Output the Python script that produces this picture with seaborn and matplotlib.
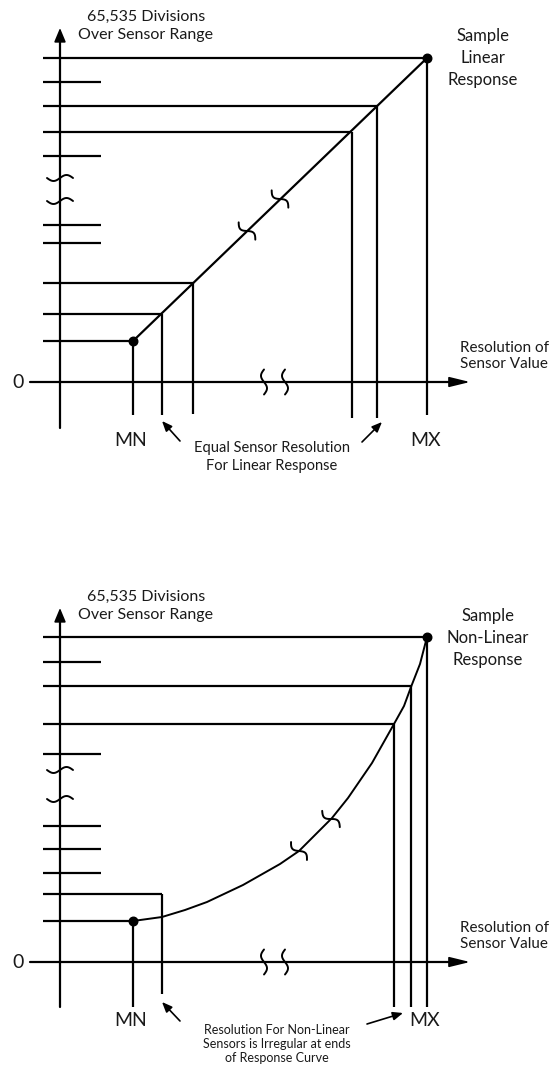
import numpy as np
import matplotlib
matplotlib.use('Agg')
import matplotlib.pyplot as plt
import seaborn as sns

# ── Data (panel coords: origin where the two axes cross, units ~ pixels) ─────
# top panel : linear response
lin_x = [73, 102, 133, 292, 317, 367]
lin_y = [41, 68, 99, 250, 276, 324]
lin_vbottom = [-33, -33, -32, -36, -36, -33]
lin_short_ticks = [300, 226, 157, 139]
lin_axis_breaks = [204, 181]
lin_curve_breaks = [(187, 151), (220, 183)]

# bottom panel : non-linear response
nl_curve_x = [73, 102, 125, 147, 183, 220, 239, 272, 288, 312, 334, 344, 351, 360, 367]
nl_curve_y = [41, 45, 52, 60, 77, 98, 111, 144, 164, 199, 238, 256, 275, 298, 325]
nl_x = [73, 102, 334, 351, 367]
nl_y = [41, 68, 238, 276, 325]
nl_vbottom = [-45, -32, -45, -45, -45]
nl_short_ticks = [300, 208, 136, 113, 89]
nl_axis_breaks = [192, 163]
nl_curve_breaks = [(239, 111), (271, 143)]

x_axis_breaks = [204, 225]

LW = 1.6
TICK_X0, TICK_X1 = -17, 41

sns.set_style('white')
plt.rcParams['font.family'] = ['Lato', 'DejaVu Sans']
TXT = '#1a1a1a'


def wave(ax, cx, cy, angle, length=26, amp=3.0):
    # small "~" break mark centred on (cx, cy), long side along angle
    s = np.linspace(-length / 2, length / 2, 40)
    off = amp * np.sin(2 * np.pi * s / length)
    ux, uy = np.cos(angle), np.sin(angle)
    px, py = -uy, ux
    ax.plot(cx + s * ux + off * px, cy + s * uy + off * py, color='k', lw=LW - 0.2,
            solid_capstyle='round')


def arrow(ax, tail, head, ms=10, hl=0.6, hw=0.25):
    ax.annotate('', xy=head, xytext=tail,
                arrowprops=dict(arrowstyle=f'-|>,head_length={hl},head_width={hw}',
                                color='k', lw=LW - 0.4, shrinkA=0, shrinkB=0,
                                mutation_scale=ms))


def frame(ax, short_ticks, axis_breaks, y_bottom):
    # axes with arrow heads, zero label, axis titles
    ax.plot([0, 0], [y_bottom, 340], color='k', lw=LW)
    arrow(ax, (0, 330), (0, 354), ms=14)
    ax.plot([-30, 396], [0, 0], color='k', lw=LW)
    arrow(ax, (380, 0), (410, 0), ms=14, hl=0.9, hw=0.22)
    ax.hlines(short_ticks, TICK_X0, TICK_X1, color='k', lw=LW)
    for yb in axis_breaks:
        wave(ax, 0, yb, 0.0, length=26, amp=3.0)
    for xb in x_axis_breaks:
        wave(ax, xb, 0, np.pi / 2, length=25, amp=3.0)
    ax.text(-42, 0, '0', fontsize=14, ha='center', va='center', color=TXT)
    ax.text(86, 356, '65,535 Divisions\nOver Sensor Range', fontsize=11.5,
            ha='center', va='center', linespacing=1.35, color=TXT)
    ax.text(444, 26, 'Resolution of\nSensor Value', fontsize=11,
            ha='center', va='center', linespacing=1.25, color=TXT)


fig = plt.figure(figsize=(5.54, 10.66), dpi=100)
ax_top = fig.add_axes([0, 0.5, 1, 0.5])
ax_bot = fig.add_axes([0, 0, 1, 0.5])

# ── Top: linear response ──────────────────────────────────────────────────────
ax = ax_top
ax.set_xlim(-60, 494)
ax.set_ylim(-151, 382)
frame(ax, lin_short_ticks, lin_axis_breaks, -46)
ax.hlines(lin_y, TICK_X0, lin_x, color='k', lw=LW)
ax.vlines(lin_x, lin_vbottom, lin_y, color='k', lw=LW)
sns.lineplot(x=[lin_x[0], lin_x[-1]], y=[lin_y[0], lin_y[-1]], ax=ax, color='k',
             lw=LW, sort=False, estimator=None)
ang = np.arctan2(lin_y[-1] - lin_y[0], lin_x[-1] - lin_x[0]) + np.pi / 2
for bx, by in lin_curve_breaks:
    wave(ax, bx, by, ang, length=24, amp=3.5)
ax.scatter([lin_x[0], lin_x[-1]], [lin_y[0], lin_y[-1]], s=38, color='k', zorder=5)
ax.text(423, 324, 'Sample\nLinear\nResponse', fontsize=12, ha='center', va='center',
        linespacing=1.45, color=TXT)
ax.text(71, -59, 'MN', fontsize=14, ha='center', va='center', color=TXT)
ax.text(366, -59, 'MX', fontsize=14, ha='center', va='center', color=TXT)
ax.text(212, -75, 'Equal Sensor Resolution\nFor Linear Response', fontsize=10.5,
        ha='center', va='center', linespacing=1.3, color=TXT)
arrow(ax, (120, -59), (102, -39), ms=10)
arrow(ax, (302, -60), (322, -40), ms=10)

# ── Bottom: non-linear response ───────────────────────────────────────────────
ax = ax_bot
ax.set_xlim(-60, 494)
ax.set_ylim(-104, 429)
frame(ax, nl_short_ticks, nl_axis_breaks, -45)
ax.hlines(nl_y, TICK_X0, nl_x, color='k', lw=LW)
ax.vlines(nl_x, nl_vbottom, nl_y, color='k', lw=LW)
sns.lineplot(x=nl_curve_x, y=nl_curve_y, ax=ax, color='k', lw=LW - 0.2,
             sort=False, estimator=None)
for bx, by in nl_curve_breaks:
    i = int(np.argmin(np.abs(np.array(nl_curve_x) - bx)))
    a = np.arctan2(nl_curve_y[i + 1] - nl_curve_y[i - 1],
                   nl_curve_x[i + 1] - nl_curve_x[i - 1]) + np.pi / 2
    wave(ax, bx, by, a, length=24, amp=3.5)
ax.scatter([nl_curve_x[0], nl_curve_x[-1]], [nl_curve_y[0], nl_curve_y[-1]], s=38,
           color='k', zorder=5)
ax.text(428, 324, 'Sample\nNon-Linear\nResponse', fontsize=12, ha='center',
        va='center', linespacing=1.45, color=TXT)
ax.text(71, -58, 'MN', fontsize=14, ha='center', va='center', color=TXT)
ax.text(365, -58, 'MX', fontsize=14, ha='center', va='center', color=TXT)
ax.text(217, -82, 'Resolution For Non-Linear\nSensors is Irregular at ends\n'
        'of Response Curve', fontsize=9, ha='center', va='center', linespacing=1.2,
        color=TXT)
arrow(ax, (120, -59), (102, -40), ms=10)
arrow(ax, (307, -62), (343, -51), ms=10)

for ax in (ax_top, ax_bot):
    ax.set_axis_off()

plt.savefig('out.png', dpi=100, facecolor='white')
